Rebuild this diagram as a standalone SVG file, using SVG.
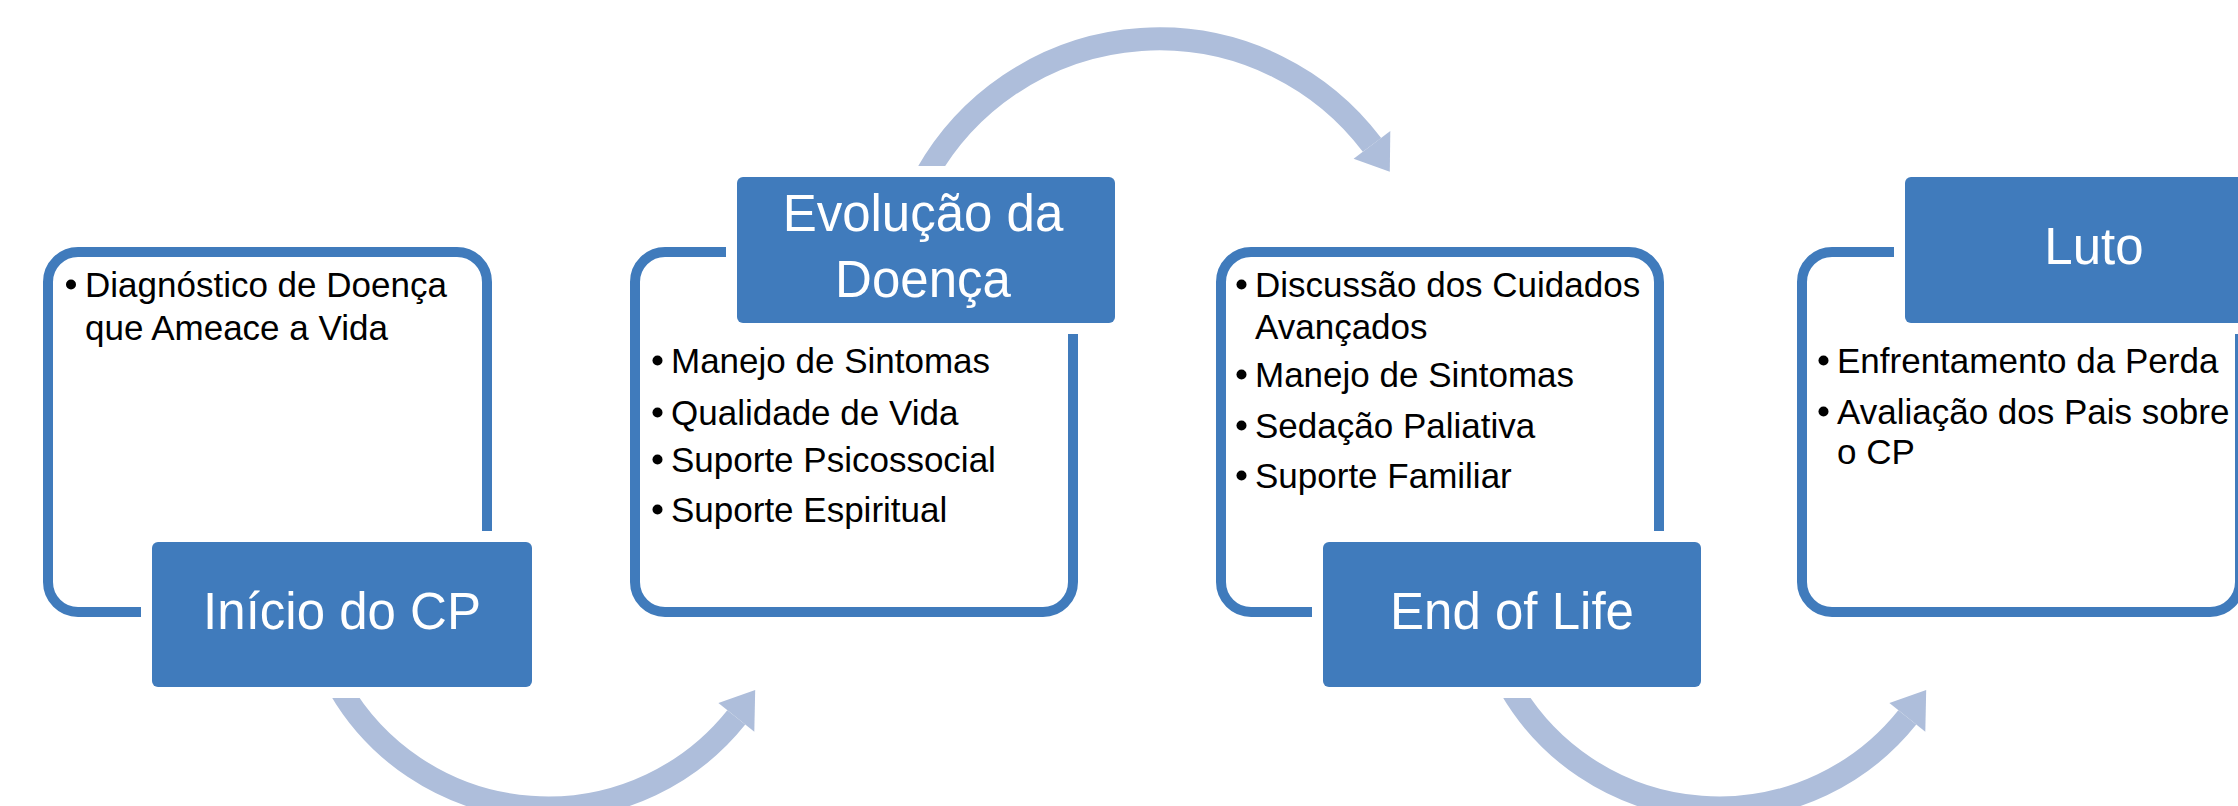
<svg xmlns="http://www.w3.org/2000/svg" width="2238" height="806" viewBox="0 0 2238 806">
<style>
.box{fill:#fff;stroke:#407BBC;stroke-width:10}
.gap{fill:#fff}
.lbl{fill:#407BBC}
.h{font-family:"Liberation Sans",Arial,sans-serif;font-size:51px;fill:#fff;text-anchor:middle}
.t{font-family:"Liberation Sans",Arial,sans-serif;font-size:35px;fill:#000}
.dot{fill:#000}
.arc{fill:none;stroke:#AEBEDB;stroke-width:23}
.head{fill:#AEBEDB}
</style>
<rect width="2238" height="806" fill="#fff"/>
<g id="connectors">
  <path class="arc" d="M339.6 688 A241 241 0 0 0 736.3 717.4"/>
  <polygon class="head" points="718.4,703 754.3,731.7 755.2,690"/>
  <path class="arc" d="M926.3 175 A267 267 0 0 1 1372 144.9"/>
  <polygon class="head" points="1353.6,158.8 1390.3,131.1 1389.8,171.7"/>
  <path class="arc" d="M1510.6 688 A241 241 0 0 0 1907.3 717.4"/>
  <polygon class="head" points="1889.4,703 1925.3,731.7 1926.2,690"/>
</g>
<g id="node1">
  <rect class="box" x="48" y="252" width="439" height="360" rx="30"/>
  <text class="t" x="85" y="297">Diagnóstico de Doença</text>
  <text class="t" x="85" y="340">que Ameace a Vida</text>
  <circle class="dot" cx="71" cy="284.5" r="5"/>
  <rect class="gap" x="141" y="531" width="402" height="167" rx="10"/>
  <rect class="lbl" x="152" y="542" width="380" height="145" rx="6"/>
  <text class="h" x="342" y="629">Início do CP</text>
</g>
<g id="node2">
  <rect class="box" x="635" y="252" width="438" height="360" rx="30"/>
  <rect class="gap" x="726" y="166" width="400" height="168" rx="10"/>
  <rect class="lbl" x="737" y="177" width="378" height="146" rx="6"/>
  <text class="h" x="923" y="231">Evolução da</text>
  <text class="h" x="923" y="297">Doença</text>
  <text class="t" x="671" y="373">Manejo de Sintomas</text>
  <text class="t" x="671" y="425">Qualidade de Vida</text>
  <text class="t" x="671" y="472">Suporte Psicossocial</text>
  <text class="t" x="671" y="522">Suporte Espiritual</text>
  <circle class="dot" cx="657.5" cy="360.5" r="5"/>
  <circle class="dot" cx="657.5" cy="412.5" r="5"/>
  <circle class="dot" cx="657.5" cy="459.5" r="5"/>
  <circle class="dot" cx="657.5" cy="509.5" r="5"/>
</g>
<g id="node3">
  <rect class="box" x="1221" y="252" width="438" height="360" rx="30"/>
  <text class="t" x="1255" y="297">Discussão dos Cuidados</text>
  <text class="t" x="1255" y="339">Avançados</text>
  <text class="t" x="1255" y="387">Manejo de Sintomas</text>
  <text class="t" x="1255" y="438">Sedação Paliativa</text>
  <text class="t" x="1255" y="488">Suporte Familiar</text>
  <circle class="dot" cx="1241.5" cy="284.5" r="5"/>
  <circle class="dot" cx="1241.5" cy="374.5" r="5"/>
  <circle class="dot" cx="1241.5" cy="425.5" r="5"/>
  <circle class="dot" cx="1241.5" cy="475.5" r="5"/>
  <rect class="gap" x="1312" y="531" width="400" height="167" rx="10"/>
  <rect class="lbl" x="1323" y="542" width="378" height="145" rx="6"/>
  <text class="h" x="1512" y="629">End of Life</text>
</g>
<g id="node4">
  <rect class="box" x="1802" y="252" width="438" height="360" rx="30"/>
  <rect class="gap" x="1894" y="166" width="400" height="168" rx="10"/>
  <rect class="lbl" x="1905" y="177" width="378" height="146" rx="6"/>
  <text class="h" x="2094" y="264">Luto</text>
  <text class="t" x="1837" y="373">Enfrentamento da Perda</text>
  <text class="t" x="1837" y="424">Avaliação dos Pais sobre</text>
  <text class="t" x="1837" y="464">o CP</text>
  <circle class="dot" cx="1823.5" cy="360.5" r="5"/>
  <circle class="dot" cx="1823.5" cy="411.5" r="5"/>
</g>
</svg>
